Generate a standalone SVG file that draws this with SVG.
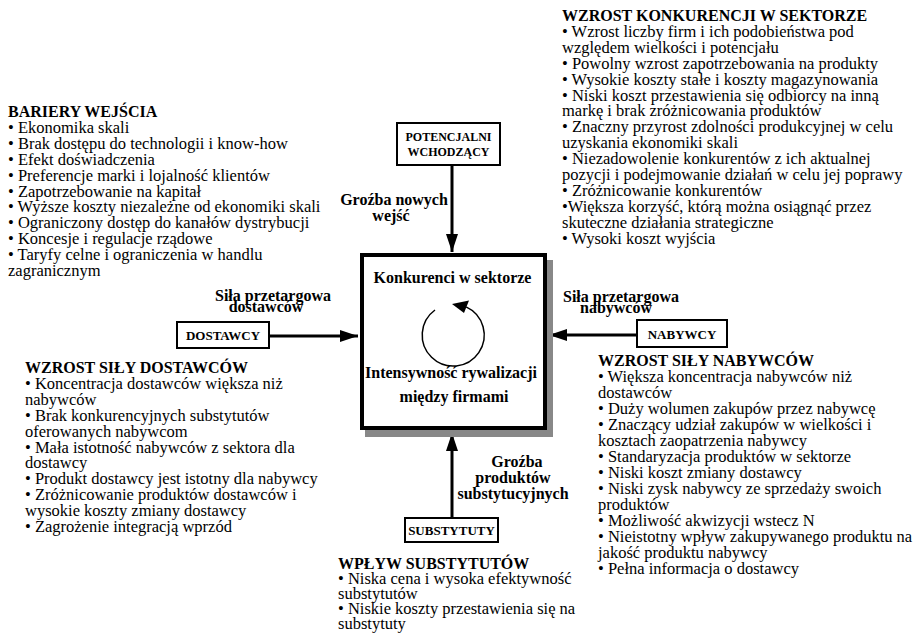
<svg xmlns="http://www.w3.org/2000/svg" width="920" height="635" viewBox="0 0 920 635">
<style>
text { font-family: "Liberation Serif", "Times New Roman", serif; fill: #000; }
.b { font-size: 16.5px; }
.h { font-size: 16px; font-weight: bold; }
.lb { font-size: 16px; font-weight: bold; }
.nl { font-size: 13px; font-weight: bold; }
.nl12 { font-size: 12px; font-weight: bold; }
.box { fill: #fff; stroke: #000; stroke-width: 2; }
.conn { stroke: #000; stroke-width: 3; fill: none; }
</style>
<defs>
<marker id="ah" markerUnits="userSpaceOnUse" markerWidth="18" markerHeight="12" refX="18" refY="6" orient="auto">
<path d="M0,0 L18,6 L0,12 Z" fill="#000"/>
</marker>
</defs>
<rect width="920" height="635" fill="#fff"/>

<g id="connectors">
<line class="conn" x1="452" y1="165" x2="452" y2="252" marker-end="url(#ah)"/>
<line class="conn" x1="269" y1="336" x2="358" y2="336" marker-end="url(#ah)"/>
<line class="conn" x1="637" y1="335" x2="549" y2="335" marker-end="url(#ah)"/>
<line class="conn" x1="452" y1="518" x2="452" y2="433" marker-end="url(#ah)"/>
</g>

<g id="konkurenci">
<rect x="365" y="260" width="188" height="177" fill="#888"/>
<rect x="362" y="255" width="183" height="173" fill="#fff" stroke="#000" stroke-width="4"/>
<text class="lb" x="452.5" y="283" text-anchor="middle">Konkurenci w sektorze</text>
<path d="M435,310 A31,31 0 1 0 466.1,306.9" fill="none" stroke="#000" stroke-width="1.5"/>
<path d="M452,304 L469,300.5 L464,313 Z" fill="#000"/>
<text class="lb" x="451" y="378" text-anchor="middle">Intensywność rywalizacji</text>
<text class="lb" x="454" y="402" text-anchor="middle">między firmami</text>
</g>

<g id="potencjalni">
<rect class="box" x="397" y="123" width="103" height="42"/>
<text class="nl12" x="448.5" y="141" text-anchor="middle">POTENCJALNI</text>
<text class="nl12" x="448.5" y="156" text-anchor="middle">WCHODZĄCY</text>
</g>

<g id="dostawcy">
<rect class="box" x="177" y="322" width="92" height="26"/>
<text class="nl" x="223" y="340" text-anchor="middle">DOSTAWCY</text>
</g>

<g id="nabywcy">
<rect class="box" x="637" y="320" width="90" height="27"/>
<text class="nl" x="682" y="339" text-anchor="middle">NABYWCY</text>
</g>

<g id="substytuty">
<rect class="box" x="405" y="518" width="93" height="24"/>
<text class="nl" x="451.5" y="535" text-anchor="middle">SUBSTYTUTY</text>
</g>

<g id="labels">
<text class="lb" x="394" y="205" text-anchor="middle">Groźba nowych</text>
<text class="lb" x="391" y="221" text-anchor="middle">wejść</text>
<text class="lb" x="273" y="301" text-anchor="middle">Siła przetargowa</text>
<text class="lb" x="266" y="312" text-anchor="middle">dostawców</text>
<text class="lb" x="621" y="302" text-anchor="middle">Siła przetargowa</text>
<text class="lb" x="616" y="313" text-anchor="middle">nabywców</text>
<text class="lb" x="517" y="467" text-anchor="middle">Groźba</text>
<text class="lb" x="513" y="483" text-anchor="middle">produktów</text>
<text class="lb" x="513" y="499" text-anchor="middle">substytucyjnych</text>
</g>

<g id="wzrost-konkurencji">
<text class="h" x="562" y="21">WZROST KONKURENCJI W SEKTORZE</text>
<text class="b" x="562" y="21">
<tspan x="562" dy="15.9">• Wzrost liczby firm i ich podobieństwa pod</tspan>
<tspan x="562" dy="15.9">względem wielkości i potencjału</tspan>
<tspan x="562" dy="15.9">• Powolny wzrost zapotrzebowania na produkty</tspan>
<tspan x="562" dy="15.9">• Wysokie koszty stałe i koszty magazynowania</tspan>
<tspan x="562" dy="15.9">• Niski koszt przestawienia się odbiorcy na inną</tspan>
<tspan x="562" dy="15.9">markę i brak zróżnicowania produktów</tspan>
<tspan x="562" dy="15.9">• Znaczny przyrost zdolności produkcyjnej w celu</tspan>
<tspan x="562" dy="15.9">uzyskania ekonomiki skali</tspan>
<tspan x="562" dy="15.9">• Niezadowolenie konkurentów z ich aktualnej</tspan>
<tspan x="562" dy="15.9">pozycji i podejmowanie działań w celu jej poprawy</tspan>
<tspan x="562" dy="15.9">• Zróżnicowanie konkurentów</tspan>
<tspan x="562" dy="15.9">•Większa korzyść, którą można osiągnąć przez</tspan>
<tspan x="562" dy="15.9">skuteczne działania strategiczne</tspan>
<tspan x="562" dy="15.9">• Wysoki koszt wyjścia</tspan>
</text>
</g>

<g id="bariery">
<text class="h" x="8" y="117">BARIERY WEJŚCIA</text>
<text class="b" x="8" y="117">
<tspan x="8" dy="15.9">• Ekonomika skali</tspan>
<tspan x="8" dy="15.9">• Brak dostępu do technologii i know-how</tspan>
<tspan x="8" dy="15.9">• Efekt doświadczenia</tspan>
<tspan x="8" dy="15.9">• Preferencje marki i lojalność klientów</tspan>
<tspan x="8" dy="15.9">• Zapotrzebowanie na kapitał</tspan>
<tspan x="8" dy="15.9">• Wyższe koszty niezależne od ekonomiki skali</tspan>
<tspan x="8" dy="15.9">• Ograniczony dostęp do kanałów dystrybucji</tspan>
<tspan x="8" dy="15.9">• Koncesje i regulacje rządowe</tspan>
<tspan x="8" dy="15.9">• Taryfy celne i ograniczenia w handlu</tspan>
<tspan x="8" dy="15.9">zagranicznym</tspan>
</text>
</g>

<g id="sila-dostawcow">
<text class="h" x="25" y="373">WZROST SIŁY DOSTAWCÓW</text>
<text class="b" x="25" y="373">
<tspan x="25" dy="15.9">• Koncentracja dostawców większa niż</tspan>
<tspan x="25" dy="15.9">nabywców</tspan>
<tspan x="25" dy="15.9">• Brak konkurencyjnych substytutów</tspan>
<tspan x="25" dy="15.9">oferowanych nabywcom</tspan>
<tspan x="25" dy="15.9">• Mała istotność nabywców z sektora dla</tspan>
<tspan x="25" dy="15.9">dostawcy</tspan>
<tspan x="25" dy="15.9">• Produkt dostawcy jest istotny dla nabywcy</tspan>
<tspan x="25" dy="15.9">• Zróżnicowanie produktów dostawców i</tspan>
<tspan x="25" dy="15.9">wysokie koszty zmiany dostawcy</tspan>
<tspan x="25" dy="15.9">• Zagrożenie integracją wprzód</tspan>
</text>
</g>

<g id="sila-nabywcow">
<text class="h" x="598" y="366">WZROST SIŁY NABYWCÓW</text>
<text class="b" x="598" y="366">
<tspan x="598" dy="16">• Większa koncentracja nabywców niż</tspan>
<tspan x="598" dy="16">dostawców</tspan>
<tspan x="598" dy="16">• Duży wolumen zakupów przez nabywcę</tspan>
<tspan x="598" dy="16">• Znaczący udział zakupów w wielkości i</tspan>
<tspan x="598" dy="16">kosztach zaopatrzenia nabywcy</tspan>
<tspan x="598" dy="16">• Standaryzacja produktów w sektorze</tspan>
<tspan x="598" dy="16">• Niski koszt zmiany dostawcy</tspan>
<tspan x="598" dy="16">• Niski zysk nabywcy ze sprzedaży swoich</tspan>
<tspan x="598" dy="16">produktów</tspan>
<tspan x="598" dy="16">• Możliwość akwizycji wstecz N</tspan>
<tspan x="598" dy="16">• Nieistotny wpływ zakupywanego produktu na</tspan>
<tspan x="598" dy="16">jakość produktu nabywcy</tspan>
<tspan x="598" dy="16">• Pełna informacja o dostawcy</tspan>
</text>
</g>

<g id="wplyw-substytutow">
<text class="h" x="338" y="569">WPŁYW SUBSTYTUTÓW</text>
<text class="b" x="338" y="569">
<tspan x="338" dy="15">• Niska cena i wysoka efektywność</tspan>
<tspan x="338" dy="15">substytutów</tspan>
<tspan x="338" dy="15">• Niskie koszty przestawienia się na</tspan>
<tspan x="338" dy="15">substytuty</tspan>
</text>
</g>
</svg>
